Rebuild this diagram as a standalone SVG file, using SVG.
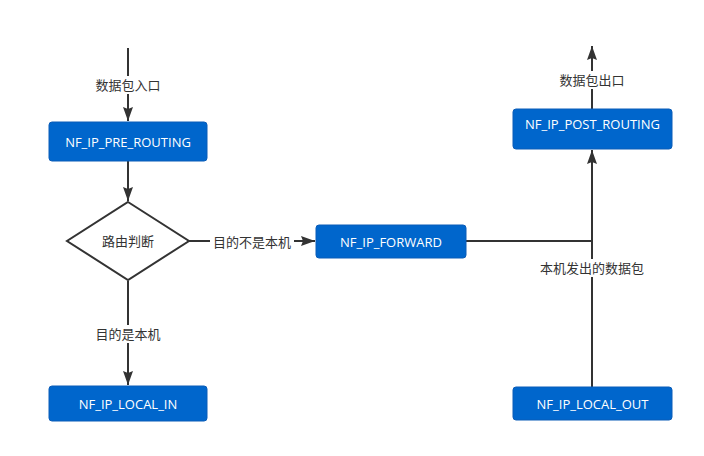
<svg xmlns="http://www.w3.org/2000/svg" width="704" height="456" viewBox="0 0 704 456">
<defs>
<marker id="ah" viewBox="0 0 14 10" refX="14" refY="5" markerWidth="14" markerHeight="10" markerUnits="userSpaceOnUse" orient="auto">
<path d="M0,0 L14,5 L0,10 L2,5 z" fill="#333"/>
</marker>
<style>
.box{fill:#0066cc;stroke:#0a5cb8;stroke-width:1}
.bt{fill:#fff;font-family:"Open Sans","Noto Sans CJK SC",sans-serif;font-size:13px;text-anchor:middle;dominant-baseline:central}
.lbl{fill:#333;font-family:"Open Sans","Noto Sans CJK SC",sans-serif;font-size:13px;text-anchor:middle;dominant-baseline:central}
.ln{stroke:#333;stroke-width:2;fill:none}
.bg{fill:#fff}
</style>
</defs>
<rect width="704" height="456" fill="#fff"/>
<g id="connectors">
<path class="ln" d="M128,48 V121" marker-end="url(#ah)"/>
<rect class="bg" x="93" y="76" width="70" height="18"/>
<text class="lbl" x="128" y="85">数据包入口</text>
<path class="ln" d="M128,161 V201" marker-end="url(#ah)"/>
<path class="ln" d="M188,241 H315" marker-end="url(#ah)"/>
<rect class="bg" x="210" y="233" width="84" height="18"/>
<text class="lbl" x="252" y="242">目的不是本机</text>
<path class="ln" d="M128,281 V385" marker-end="url(#ah)"/>
<rect class="bg" x="93" y="325" width="70" height="18"/>
<text class="lbl" x="128" y="334">目的是本机</text>
<path class="ln" d="M466,241 H592"/>
<path class="ln" d="M592,387 V150" marker-end="url(#ah)"/>
<rect class="bg" x="540" y="259" width="104" height="18"/>
<text class="lbl" x="592" y="268">本机发出的数据包</text>
<path class="ln" d="M592,109 V46" marker-end="url(#ah)"/>
<rect class="bg" x="557" y="71" width="70" height="18"/>
<text class="lbl" x="592" y="80">数据包出口</text>
</g>
<g id="pre_routing">
<rect class="box" x="49" y="122" width="158" height="39" rx="3"/>
<text class="bt" x="128" y="141.5">NF_IP_PRE_ROUTING</text>
</g>
<g id="route_decision">
<path d="M128,202 L189,241 L128,280 L67,241 Z" fill="#fff" stroke="#333" stroke-width="2"/>
<text class="lbl" x="128" y="241">路由判断</text>
</g>
<g id="forward">
<rect class="box" x="316" y="225" width="150" height="33" rx="3"/>
<text class="bt" x="391" y="241.5">NF_IP_FORWARD</text>
</g>
<g id="post_routing">
<rect class="box" x="513" y="109" width="159" height="40" rx="3"/>
<text class="bt" x="592.5" y="124">NF_IP_POST_ROUTING</text>
</g>
<g id="local_in">
<rect class="box" x="49" y="386" width="158" height="35" rx="3"/>
<text class="bt" x="128" y="403.5">NF_IP_LOCAL_IN</text>
</g>
<g id="local_out">
<rect class="box" x="513" y="387" width="159" height="33" rx="3"/>
<text class="bt" x="592.5" y="403.5">NF_IP_LOCAL_OUT</text>
</g>
</svg>
